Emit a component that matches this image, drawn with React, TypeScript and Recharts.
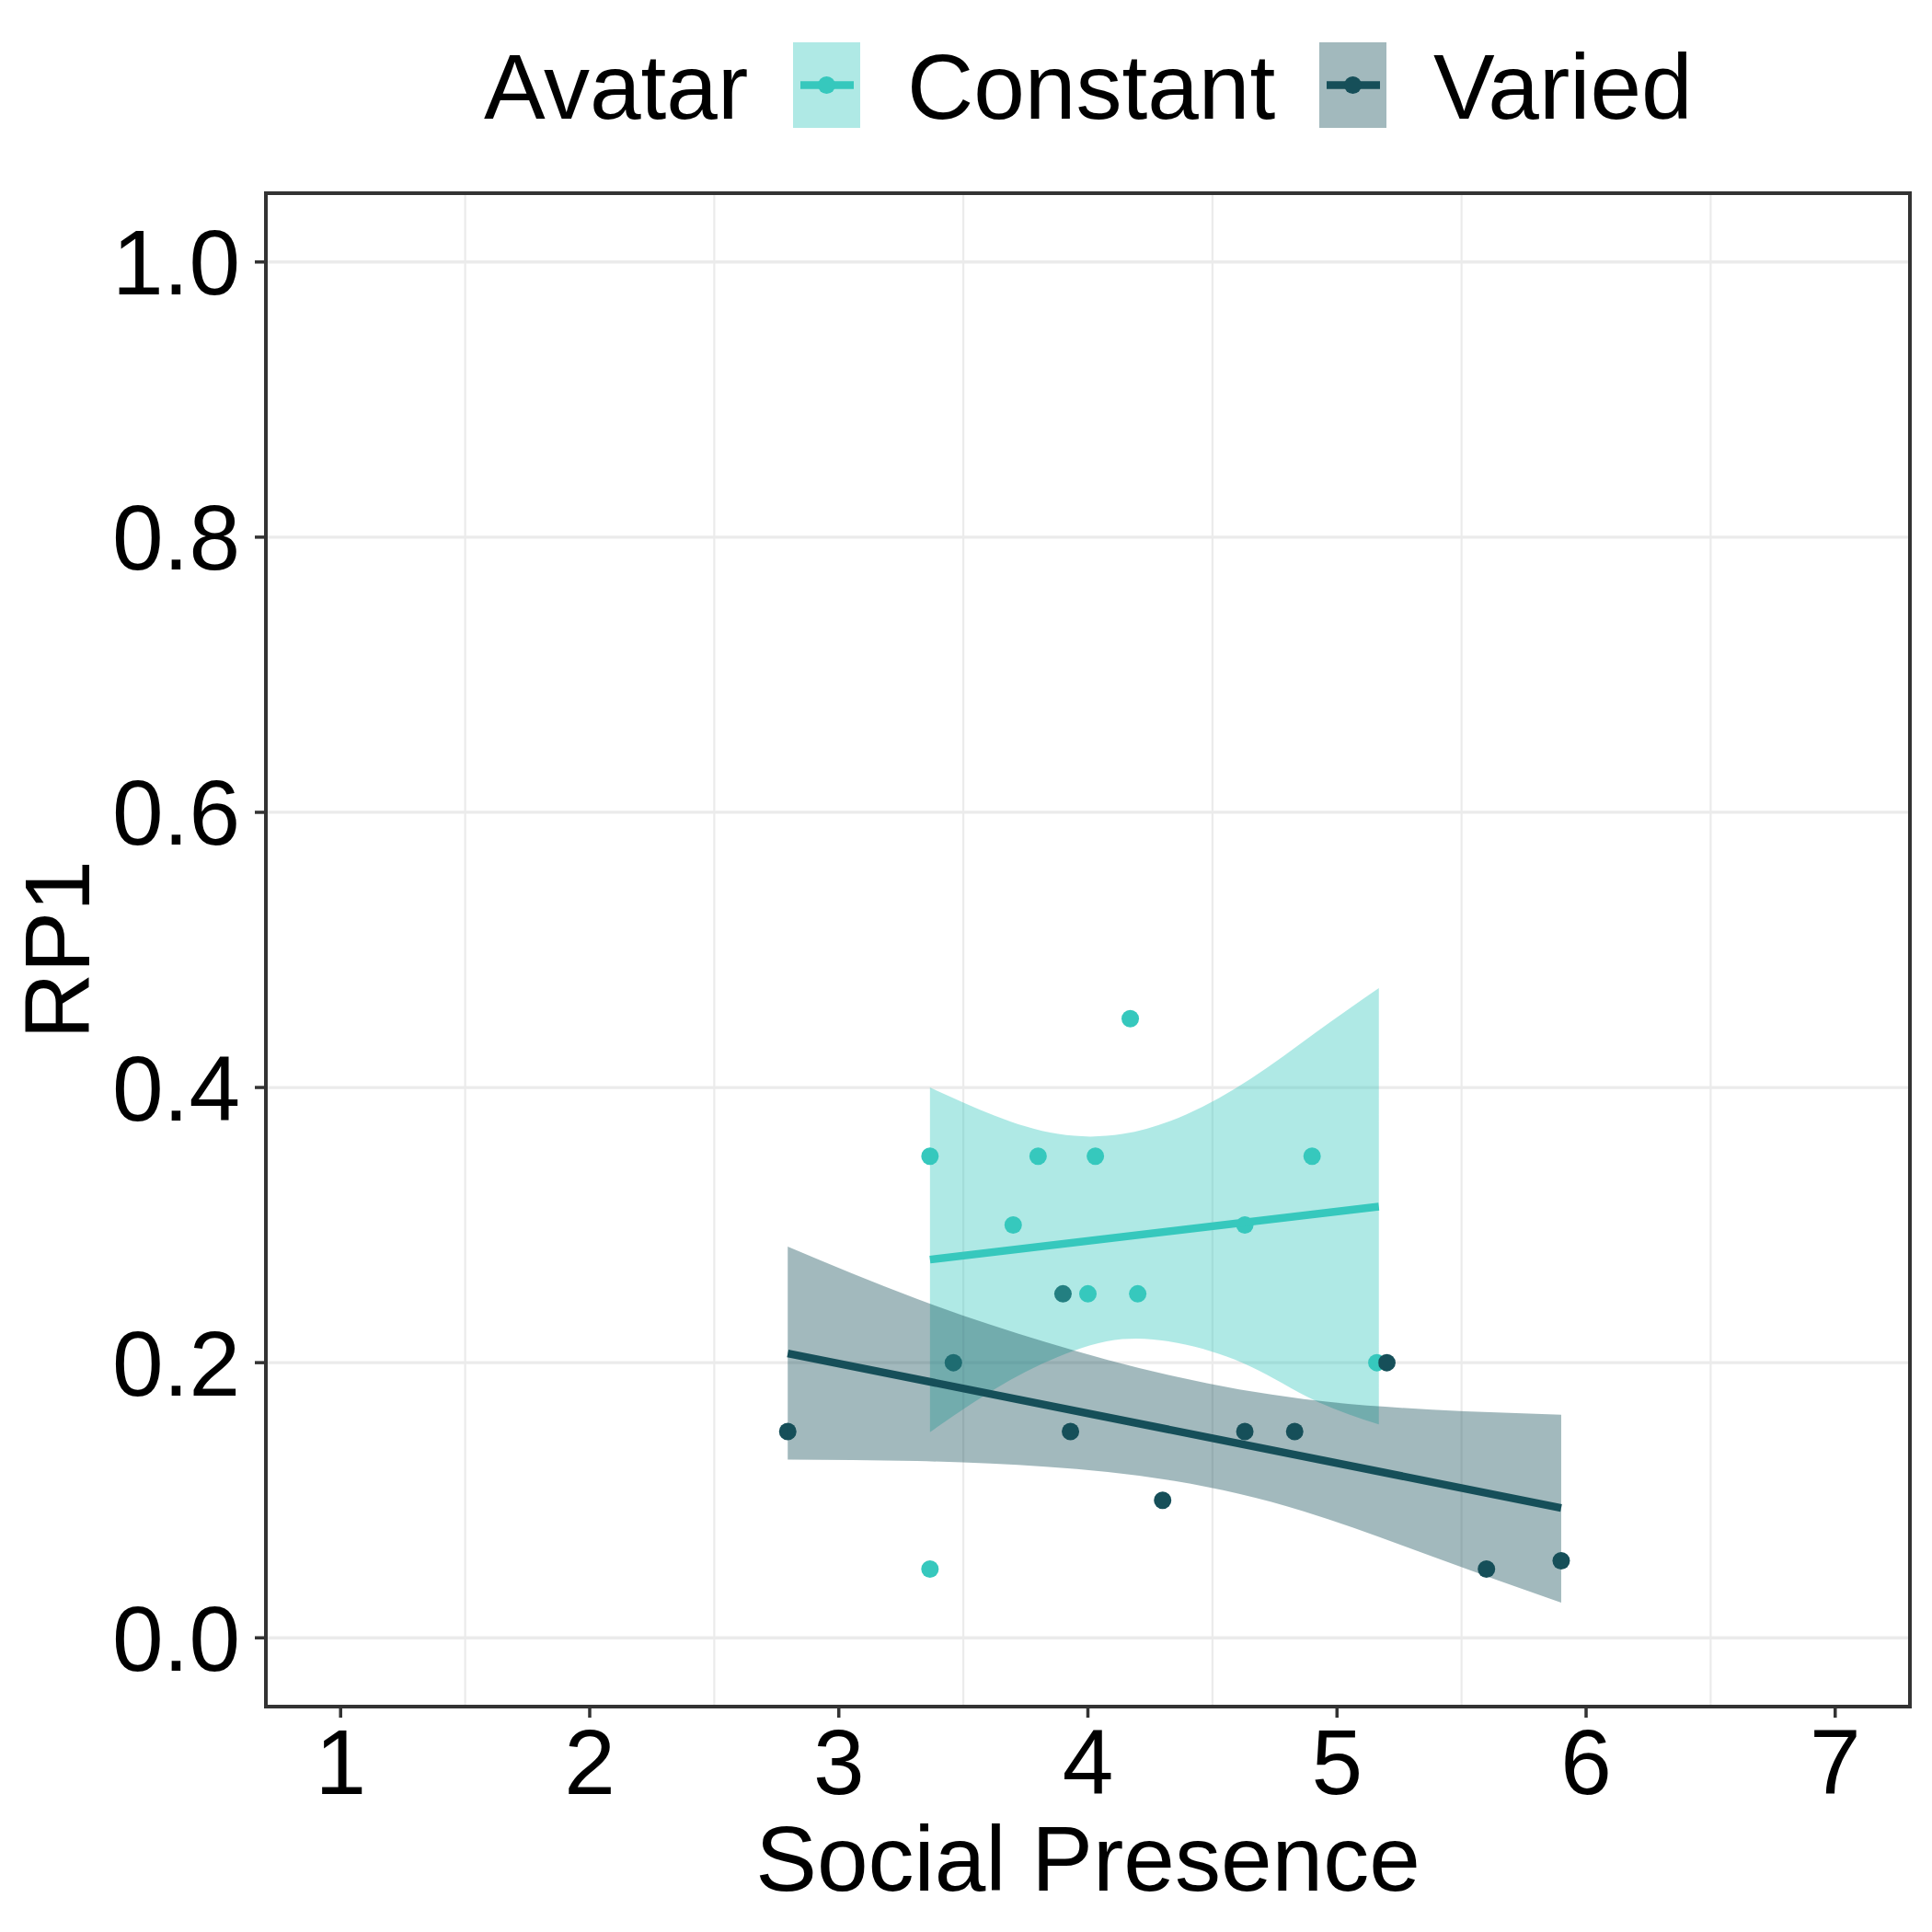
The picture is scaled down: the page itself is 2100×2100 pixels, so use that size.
import {
  Area,
  CartesianGrid,
  ComposedChart,
  Label,
  Legend,
  Line,
  ReferenceArea,
  Scatter,
  XAxis,
  YAxis,
} from "recharts";

const CONSTANT = "#36C8BD";
const VARIED = "#164F59";

const xTicks = [1, 2, 3, 4, 5, 6, 7];
const xMinorGrid = [1.5, 2.5, 3.5, 4.5, 5.5, 6.5];
const yTicks = [0, 0.2, 0.4, 0.6, 0.8, 1.0];

// raw points
const constantX = [3.366, 3.8, 4.03, 4.9, 4.17, 3.7, 4.63, 4.0, 4.2, 5.16, 3.366];
const constantY = [0.35, 0.35, 0.35, 0.35, 0.45, 0.3, 0.3, 0.25, 0.25, 0.2, 0.05];
const variedX = [2.795, 3.46, 3.9, 3.93, 4.3, 4.63, 4.83, 5.2, 5.6, 5.9];
const variedY = [0.15, 0.2, 0.25, 0.15, 0.1, 0.15, 0.15, 0.2, 0.05, 0.056];

// lm fit lines (end points)
const constantFitX = [3.366, 5.168];
const constantFitY = [0.2749, 0.3134];
const variedFitX = [2.795, 5.9];
const variedFitY = [0.2067, 0.0944];

// confidence bands, read at evenly spaced x positions
const constantBandX = [3.366, 3.624, 3.881, 4.139, 4.396, 4.654, 4.911, 5.168];
const constantUpper = [0.4, 0.3797, 0.3662, 0.3662, 0.3805, 0.4063, 0.4395, 0.4722];
const constantLower = [0.1495, 0.1806, 0.2043, 0.2171, 0.2129, 0.1971, 0.1725, 0.1551];
const variedBandX = [2.795, 3.313, 3.83, 4.348, 4.866, 5.382, 5.9];
const variedUpper = [0.2843, 0.2464, 0.215, 0.19, 0.1735, 0.1659, 0.1622];
const variedLower = [0.1296, 0.1285, 0.1243, 0.114, 0.092, 0.0592, 0.0255];

const zipPoints = (xs: number[], ys: number[]) => xs.map((x, i) => ({ x, y: ys[i] }));
const zipBand = (xs: number[], lo: number[], hi: number[]) =>
  xs.map((x, i) => ({ x, band: [lo[i], hi[i]] }));

const constantPoints = zipPoints(constantX, constantY);
const variedPoints = zipPoints(variedX, variedY);
const constantFit = zipPoints(constantFitX, constantFitY);
const variedFit = zipPoints(variedFitX, variedFitY);
const constantBand = zipBand(constantBandX, constantLower, constantUpper);
const variedBand = zipBand(variedBandX, variedLower, variedUpper);

const FONT = 100;

const dot = (color: string) => (p: any) => <circle cx={p.cx} cy={p.cy} r={9.5} fill={color} />;

function LegendKey({ x, color }: { x: number; color: string }) {
  return (
    <g>
      <rect x={x} y={46} width={73} height={93} fill={color} fillOpacity={0.4} />
      <line x1={x + 8} x2={x + 66} y1={92.5} y2={92.5} stroke={color} strokeWidth={8.5} />
      <circle cx={x + 36.5} cy={92.5} r={9.5} fill={color} />
    </g>
  );
}

function TopLegend() {
  return (
    <svg width={2100} height={150} style={{ display: "block" }}>
      <text x={526} y={129} fontSize={FONT} fill="#000">
        Avatar
      </text>
      <LegendKey x={862} color={CONSTANT} />
      <text x={986} y={129} fontSize={FONT} fill="#000">
        Constant
      </text>
      <LegendKey x={1434} color={VARIED} />
      <text x={1558} y={129} fontSize={FONT} fill="#000">
        Varied
      </text>
    </svg>
  );
}

const XTitle = (props: any) => {
  const vb = props.viewBox || { x: 289, y: 1855, width: 1787, height: 245 };
  return (
    <text x={vb.x + vb.width / 2} y={2055} textAnchor="middle" fontSize={FONT} fill="#000">
      Social Presence
    </text>
  );
};

const YTitle = (props: any) => {
  const vb = props.viewBox || { x: 0, y: 210, width: 289, height: 1645 };
  const cy = vb.y + vb.height / 2;
  return (
    <text x={97} y={cy} transform={`rotate(-90 97 ${cy})`} textAnchor="middle" fontSize={FONT} fill="#000">
      RP1
    </text>
  );
};

export default function App() {
  const tickStyle = { fontSize: FONT, fill: "#000" };
  const tickLine = { stroke: "#333333", strokeWidth: 3.5 };

  return (
    <div style={{ position: "absolute", left: 0, top: 0, fontFamily: "'Liberation Sans', Arial, sans-serif", background: "#fff" }}>
      <ComposedChart width={2100} height={2100} margin={{ top: 60, right: 24, bottom: 0, left: 0 }}>
        <Legend
          verticalAlign="top"
          align="center"
          content={() => <TopLegend />}
          wrapperStyle={{ top: 0, left: 0, width: 2100, height: 150 }}
        />
        <CartesianGrid horizontal vertical={false} stroke="#EBEBEB" strokeWidth={3.3} />
        <CartesianGrid horizontal={false} vertical verticalValues={xMinorGrid} stroke="#EBEBEB" strokeWidth={2.2} />
        <XAxis
          type="number"
          dataKey="x"
          domain={[0.7, 7.3]}
          ticks={xTicks}
          allowDataOverflow
          height={245}
          axisLine={false}
          tickLine={tickLine}
          tickSize={12}
          tickMargin={12}
          tick={tickStyle}
          interval={0}
        >
          <Label content={XTitle} />
        </XAxis>
        <YAxis
          type="number"
          dataKey="y"
          domain={[-0.05, 1.05]}
          ticks={yTicks}
          allowDataOverflow
          width={289}
          axisLine={false}
          tickLine={tickLine}
          tickSize={12}
          tickMargin={16}
          tick={tickStyle}
          interval={0}
          tickFormatter={(v: number) => v.toFixed(1)}
        >
          <Label content={YTitle} />
        </YAxis>

        <Scatter name="Constant" data={constantPoints} shape={dot(CONSTANT)} isAnimationActive={false} zIndex={110} />
        <Scatter name="Varied" data={variedPoints} shape={dot(VARIED)} isAnimationActive={false} zIndex={120} />

        <Area
          data={constantBand}
          dataKey="band"
          type="natural"
          fill={CONSTANT}
          fillOpacity={0.4}
          stroke="none"
          activeDot={false}
          isAnimationActive={false}
          zIndex={130}
        />
        <Line
          data={constantFit}
          dataKey="y"
          type="linear"
          stroke={CONSTANT}
          strokeWidth={8.5}
          dot={false}
          activeDot={false}
          isAnimationActive={false}
          zIndex={140}
        />
        <Area
          data={variedBand}
          dataKey="band"
          type="natural"
          fill={VARIED}
          fillOpacity={0.4}
          stroke="none"
          activeDot={false}
          isAnimationActive={false}
          zIndex={150}
        />
        <Line
          data={variedFit}
          dataKey="y"
          type="linear"
          stroke={VARIED}
          strokeWidth={8.5}
          dot={false}
          activeDot={false}
          isAnimationActive={false}
          zIndex={160}
        />

        <ReferenceArea
          x1={0.7}
          x2={7.3}
          y1={-0.05}
          y2={1.05}
          fill="none"
          fillOpacity={0}
          stroke="#333333"
          strokeWidth={4}
          ifOverflow="visible"
          zIndex={170}
        />
      </ComposedChart>
    </div>
  );
}
